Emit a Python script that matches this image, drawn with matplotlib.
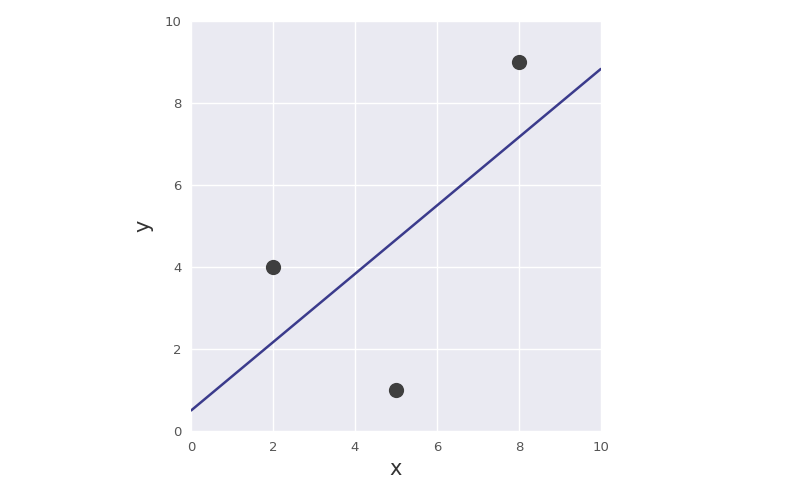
import matplotlib
matplotlib.use("Agg")
import matplotlib.pyplot as plt
import seaborn as sns

# data points
x_pts = [2, 5, 8]
y_pts = [4, 1, 9]

# fitted line end points
line_x = [0, 10]
line_y = [0.5, 8.83]

ticks = [0, 2, 4, 6, 8, 10]

sns.set_style("darkgrid")
plt.rcParams['font.family'] = ['DejaVu Sans']

fig = plt.figure(figsize=(8, 4.88), dpi=100)
ax = fig.add_axes([0.239, 0.117, 0.512, 0.84])
ax.set_facecolor('#eaeaf2')

ax.plot(line_x, line_y, color='#3b3b8c', linewidth=1.8, zorder=2)
ax.scatter(x_pts, y_pts, s=120, color='#3f3f3f', zorder=3, linewidths=0)

ax.set_xlim(0, 10)
ax.set_ylim(0, 10)
ax.set_xticks(ticks)
ax.set_yticks(ticks)
ax.tick_params(axis='both', labelsize=9.5, colors='#555555', length=0, pad=7)
ax.grid(True, color='white', linewidth=1)
for s in ax.spines.values():
    s.set_visible(False)

ax.set_xlabel('x', fontsize=15, color='#333333', labelpad=4)
ax.set_ylabel('y', fontsize=15, color='#333333', labelpad=8)

fig.savefig('out.png', dpi=100)
